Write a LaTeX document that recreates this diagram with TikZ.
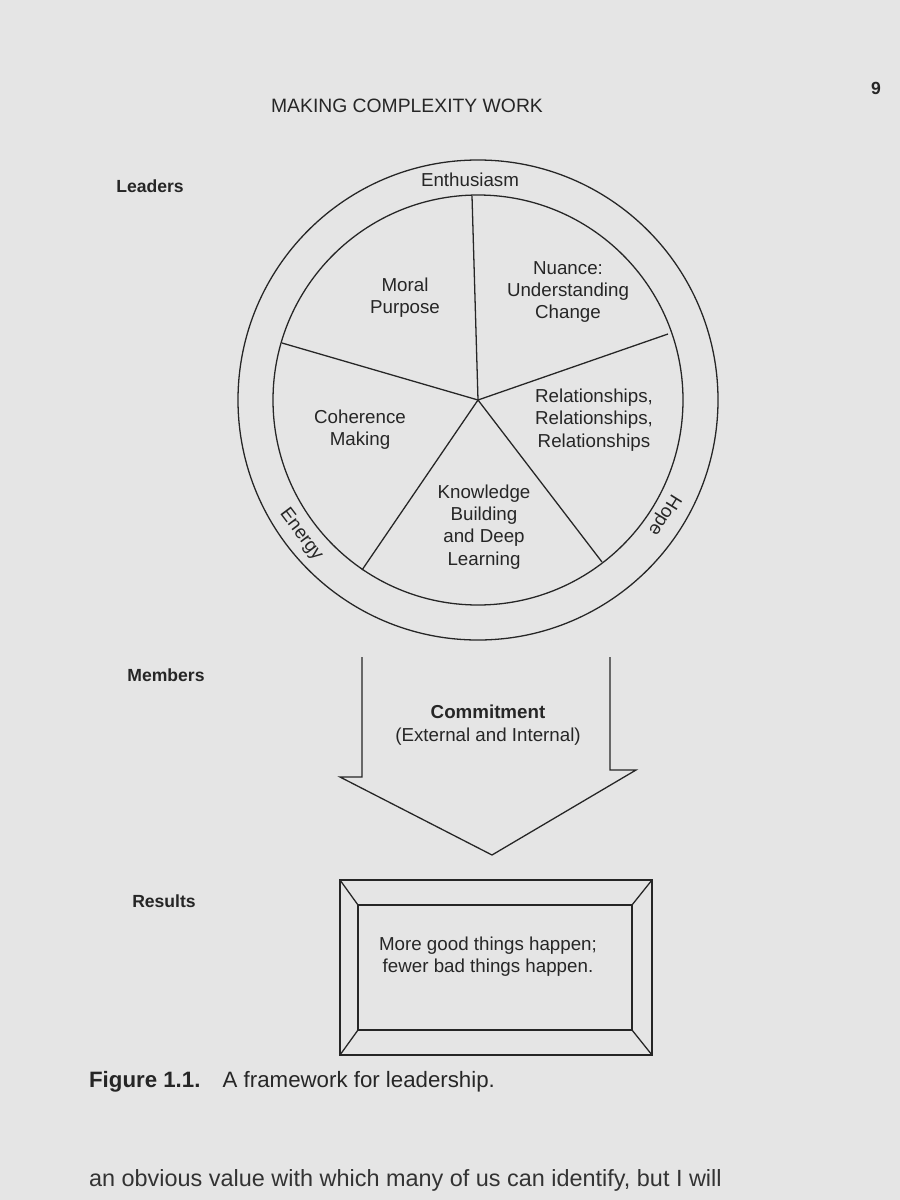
\documentclass[tikz,border=0pt]{standalone}
\usepackage{fontspec}
\setmainfont{Liberation Sans}
\begin{document}
\begin{tikzpicture}[x=0.03cm,y=-0.03cm,
  lbl/.style={font=\fontsize{16}{19}\selectfont,align=center,text=black!85},
  side/.style={font=\bfseries\fontsize{15}{18}\selectfont,text=black!85},
  ln/.style={draw=black!85,line width=1.1pt}]
\fill[black!10] (0,0) rectangle (900,1200);
\useasboundingbox (0,0) rectangle (900,1200);
\node[font=\fontsize{16.5}{19}\selectfont,text=black!85] (hdr) at (407,106) {MAKING COMPLEXITY WORK};
\node[font=\bfseries\fontsize{15}{18}\selectfont,text=black!85] (pg) at (876,88) {9};
\coordinate (c) at (478,400);
\draw[ln] (c) circle[radius=240];
\draw[ln] (c) circle[radius=205];
\coordinate (s1) at (472,196);
\coordinate (s2) at (668,334);
\coordinate (s3) at (602,562);
\coordinate (s4) at (362,570);
\coordinate (s5) at (282,343);
\foreach \s in {s1,s2,s3,s4,s5} \draw[ln] (c) -- (\s);
\node[lbl] (ent) at (470,180) {Enthusiasm};
\node[lbl,rotate=-53] (ene) at (301,535) {Energy};
\node[lbl,rotate=-122] (hop) at (664,515) {Hope};
\node[lbl] (mp) at (405,298) {Moral\\Purpose};
\node[lbl] (nu) at (568,292) {Nuance:\\Understanding\\Change};
\node[lbl] (rel) at (594,420) {Relationships,\\Relationships,\\Relationships};
\node[lbl] (coh) at (360,430) {Coherence\\Making};
\node[lbl] (kn) at (484,527) {Knowledge\\Building\\and Deep\\Learning};
\node[side] (lead) at (150,186) {Leaders};
\node[side] (mem) at (166,675) {Members};
\node[side] (res) at (164,901) {Results};
\draw[ln,line join=miter] (362,657) -- (362,777) -- (340,777) -- (492,855) -- (636,770) -- (610,770) -- (610,657);
\node[font=\bfseries\fontsize{16}{19}\selectfont,text=black!85] (com) at (488,712) {Commitment};
\node[lbl] (ext) at (488,737) {(External and Internal)};
\draw[ln] (340,880) rectangle (652,1055);
\draw[ln] (358,905) rectangle (632,1030);
\draw[ln] (340,880) -- (358,905) (652,880) -- (632,905) (340,1055) -- (358,1030) (652,1055) -- (632,1030);
\node[lbl] (out) at (488,957) {More good things happen;\\fewer bad things happen.};
\node[anchor=west,font=\fontsize{19}{22}\selectfont,text=black!85] (cap) at (85,1082) {\textbf{Figure 1.1.}\quad A framework for leadership.};
\node[anchor=west,font=\fontsize{20}{24}\selectfont,text=black!80] (body) at (85,1180) {an obvious value with which many of us can identify, but I will};
\end{tikzpicture}
\end{document}
